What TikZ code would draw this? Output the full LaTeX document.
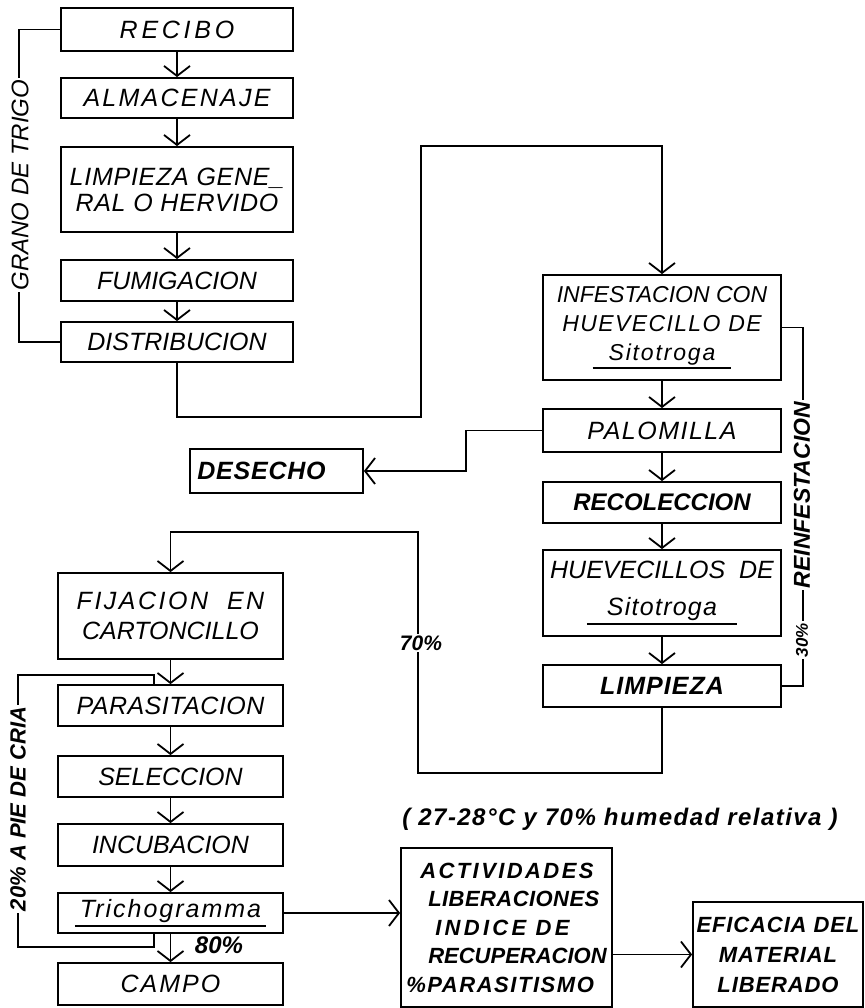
\documentclass[tikz,border=0pt]{standalone}
\usepackage{fontspec}
\setmainfont{Liberation Sans}
\usepackage{tikz}
\usetikzlibrary{arrows.meta,positioning}
\newcommand{\ls}[1]{\addfontfeature{LetterSpace=#1}}
\newcommand{\ulword}[2][10pt]{\vtop{\hbox{\kern#1#2\kern#1}\kern2pt\hrule height 1.8pt}}

\begin{document}
\begin{tikzpicture}[
    x=1pt, y=-1pt,
    box/.style={draw,line width=1.8pt,inner sep=0pt,align=center,font=\fontsize{25}{28}\selectfont\itshape},
    colL/.style={box,minimum width=232pt},
    colB/.style={box,minimum width=225pt},
    colR/.style={box,minimum width=238pt},
    lbl/.style={fill=white,inner sep=2pt,font=\fontsize{24}{26}\selectfont\itshape},
    heavy/.style={font=\fontsize{22}{28.5}\selectfont\bfseries\itshape},
    flow/.style={line width=1.8pt,-{Straight Barb[length=10pt,width=26pt]}},
    link/.style={line width=1.8pt}
  ]
  \useasboundingbox (0,0) rectangle (864,1008);
  % Grain preparation
  \node[colL,minimum height=43pt] (recibo)  at (177,29.5) {\ls{15}RECIBO};
  \node[colL,minimum height=40pt] (almac)   at (177,98)   {\ls{9}ALMACENAJE};
  \node[colL,minimum height=85pt,font=\fontsize{25}{26}\selectfont\itshape] (limpgen) at (177,189.5) {\ls{3}LIMPIEZA GENE\_\\\ls{3}RAL O HERVIDO};
  \node[colL,minimum height=41pt] (fumig)   at (177,280.5) {FUMIGACION};
  \node[colL,minimum height=40pt] (distrib) at (177,342)  {DISTRIBUCION};
  % Sitotroga rearing
  \node[colR,minimum height=105pt,font=\fontsize{23}{29}\selectfont\itshape] (infest) at (662,327.5) {INFESTACION CON\\\ls{6}HUEVECILLO DE\\\ulword[16pt]{\ls{8}Sitotroga}};
  \node[colR,minimum height=43pt] (palom) at (662,430.5) {\ls{6}PALOMILLA};
  \node[colR,minimum height=41pt,font=\fontsize{24}{28}\selectfont\bfseries\itshape] (recol) at (662,502.5) {RECOLECCION};
  \node[colR,minimum height=86pt,font=\fontsize{25}{37}\selectfont\itshape] (huev) at (662,593) {HUEVECILLOS\ \ DE\\\ulword[20pt]{\ls{5}Sitotroga}};
  \node[colR,minimum height=42pt,font=\fontsize{25}{28}\selectfont\bfseries\itshape] (limp) at (662,686) {\ls{4}LIMPIEZA};
  \node[box,minimum width=173pt,minimum height=44pt,font=\fontsize{25}{28}\selectfont\bfseries\itshape] (desecho) at (276.5,471) {\ls{3}DESECHO\hspace{30pt}};
  % Trichogramma rearing
  \node[colB,minimum height=86pt,font=\fontsize{25}{30}\selectfont\itshape] (fijac) at (170.5,616) {\ls{10}FIJACION\ \ EN\\CARTONCILLO};
  \node[colB,minimum height=41pt] (paras)  at (170.5,705.5) {\ls{2}PARASITACION};
  \node[colB,minimum height=41pt] (selecc) at (170.5,776.5) {SELECCION};
  \node[colB,minimum height=42pt] (incub)  at (170.5,845)   {INCUBACION};
  \node[colB,minimum height=40pt] (trich)  at (170.5,913)   {\ulword[5pt]{\ls{8}Trichogramma}};
  \node[colB,minimum height=42pt] (campo)  at (170.5,984)   {\ls{8}CAMPO};
  % Field evaluation
  \node[box,heavy,align=left,minimum width=211pt,minimum height=159pt] (activ) at (506.5,927.5)
    {\hspace{14pt}\ls{11}ACTIVIDADES\\\hspace{22pt}\ls{2}LIBERACIONES\\\hspace{29pt}\ls{15}INDICE DE\\\hspace{22pt}RECUPERACION\\\ls{7}\%PARASITISMO};
  \node[box,heavy,minimum width=170pt,minimum height=105pt,font=\fontsize{22}{30}\selectfont\bfseries\itshape] (efic) at (778,954.5)
    {\ls{4}EFICACIA DEL\\\ls{4}MATERIAL\\\ls{4}LIBERADO};
  \node[font=\fontsize{24}{26}\selectfont\bfseries\itshape] (cond) at (620,819) {\ls{6}( 27-28°C y 70\% humedad relativa )};
  % Junctions
  \coordinate (jA) at (421,417);
  \coordinate (jB) at (421,146);
  \coordinate (jC) at (466,471);
  \coordinate (jD) at (418,773);
  \coordinate (jE) at (418,532);
  \coordinate (jF) at (154,947);
  \coordinate (jG) at (18,675);
  \coordinate (jH) at (154,675);
  % Straight flow
  \foreach \a/\b in {recibo/almac, almac/limpgen, limpgen/fumig, fumig/distrib,
                     infest/palom, palom/recol, recol/huev, huev/limp,
                     fijac/paras, paras/selecc, selecc/incub, incub/trich, trich/campo} {
    \draw[flow] (\a) -- (\b);
  }
  % Loops and branches
  \draw[link] (recibo.west) -- ++(-41,0) |- (distrib.west);
  \draw[flow] (distrib.south) |- (jA) -- (jB) -| (infest.north);
  \draw[flow] (palom.west) -| (jC) -- (desecho.east);
  \draw[link] (infest.east) -- ++(21,0) |- (limp.east);
  \draw[flow] (limp.south) |- (jD) -- (jE) -| (fijac.north);
  \draw[link] (jF |- trich.south) -- (jF) -| (jG) -- (jH) -- (jH |- paras.north);
  \draw[flow] (trich.east) -- (trich.east -| activ.west);
  \draw[flow] (efic.west -| activ.east) -- (efic.west);
  % Labels
  \node[lbl,rotate=90] (trigo) at (20,185) {GRANO\ DE\ TRIGO};
  \node[lbl,rotate=90,font=\fontsize{23}{26}\selectfont\bfseries\itshape] (reinf) at (802,495) {REINFESTACION};
  \node[lbl,rotate=90,font=\fontsize{17}{20}\selectfont\bfseries\itshape] (p30) at (802,640) {30\%};
  \node[lbl,font=\fontsize{21}{24}\selectfont\bfseries\itshape] (p70) at (421,643) {70\%};
  \node[lbl,rotate=90,font=\fontsize{22}{26}\selectfont\bfseries\itshape] (cria) at (18,809) {20\% A PIE DE CRIA};
  \node[font=\fontsize{24}{26}\selectfont\bfseries\itshape] (p80) at (219,945) {80\%};
\end{tikzpicture}
\end{document}
